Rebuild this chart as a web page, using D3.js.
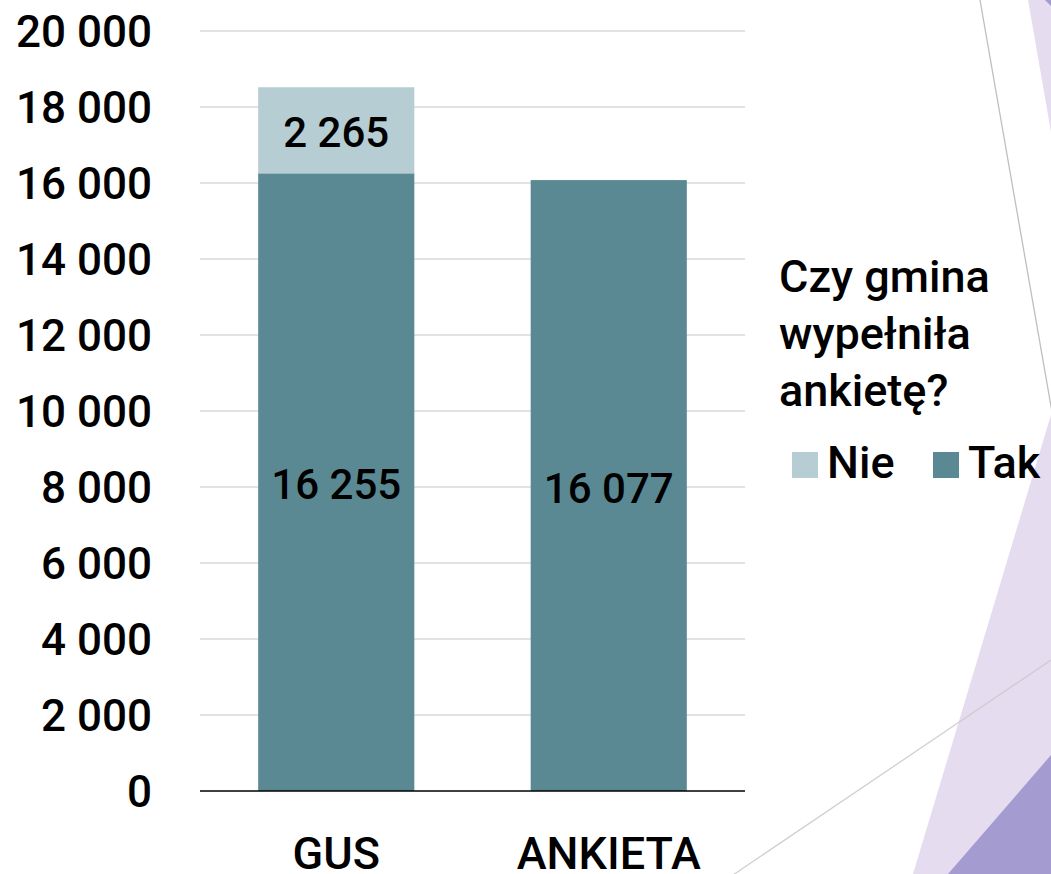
<!DOCTYPE html>
<html><head><meta charset="utf-8">
<script src="https://cdn.jsdelivr.net/npm/d3@7"></script>
<style>
html,body{margin:0;padding:0;background:#fff;}
svg{display:block;}
text{font-family:"Roboto",sans-serif;font-weight:500;fill:#000;}
</style></head>
<body>
<svg id="chart" width="1051" height="874"></svg>
<script>
const categories = ["GUS", "ANKIETA"];
const seriesNames = ["Tak", "Nie"];
const takValues = [16255, 16077];
const nieValues = [2265, 0];
const yTicks = [0, 2000, 4000, 6000, 8000, 10000, 12000, 14000, 16000, 18000, 20000];
const legendTitle = ["Czy gmina", "wypełniła", "ankietę?"];
const legendOrder = ["Nie", "Tak"];

const colors = {Tak: "#5A8993", Nie: "#B6CDD4"};
const fmt = d3.formatLocale({decimal: ",", thousands: " ", grouping: [3]}).format(",d");

const svg = d3.select("#chart");

// decorative slide background
const deco = svg.append("g");
deco.append("polygon").attr("points", "1028,0 1051,0 1051,132").attr("fill", "#E6DCEF");
deco.append("polygon").attr("points", "1045,0 1051,0 1051,6").attr("fill", "#A49CD1");
deco.append("polygon").attr("points", "1053,408 1051,874 913,874").attr("fill", "#E6DCEF");
deco.append("polygon").attr("points", "1051,755 1051,874 948,874").attr("fill", "#A49CD1");
deco.append("line").attr("x1", 980).attr("y1", 0).attr("x2", 1052).attr("y2", 412)
  .attr("stroke", "#BFBFBF").attr("stroke-width", 1.3);
deco.append("line").attr("x1", 733).attr("y1", 875).attr("x2", 1051).attr("y2", 660)
  .attr("stroke", "#C8C8C8").attr("stroke-opacity", 0.85).attr("stroke-width", 1.3);

const x0 = 200, x1 = 745, yTop = 31, yBot = 791;
const x = d3.scaleBand().domain(categories).range([x0, x1]).paddingInner(0.427).paddingOuter(0.2135);
const y = d3.scaleLinear().domain([0, 20000]).range([yBot, yTop]);

// gridlines
svg.append("g").selectAll("line").data(yTicks.filter(d => d > 0)).join("line")
  .attr("x1", x0).attr("x2", x1)
  .attr("y1", d => y(d)).attr("y2", d => y(d))
  .attr("stroke", "#D9D9D9").attr("stroke-width", 1.5);

// y axis labels
const yAxis = d3.axisLeft(y).tickValues(yTicks).tickFormat(fmt).tickSize(0).tickPadding(0);
const ya = svg.append("g").attr("transform", "translate(152,0)").call(yAxis);
ya.select(".domain").remove();
ya.selectAll("text").attr("font-size", 44).attr("font-family", "Roboto").attr("font-weight", 500).attr("fill", "#000").attr("dy", "0.36em");

// stacked bars
const rows = categories.map((c, i) => ({cat: c, Tak: takValues[i], Nie: nieValues[i]}));
const stack = d3.stack().keys(seriesNames)(rows);
const gBars = svg.append("g");
stack.forEach(layer => {
  gBars.selectAll(null).data(layer.filter(d => d[1] - d[0] > 0)).join("rect")
    .attr("x", d => x(d.data.cat)).attr("width", x.bandwidth())
    .attr("y", d => y(d[1])).attr("height", d => y(d[0]) - y(d[1]))
    .attr("fill", colors[layer.key]);
});
// data labels
stack.forEach(layer => {
  gBars.selectAll(null).data(layer.filter(d => d[1] - d[0] > 0)).join("text")
    .attr("x", d => x(d.data.cat) + x.bandwidth() / 2)
    .attr("y", d => (y(d[0]) + y(d[1])) / 2 + 2)
    .attr("text-anchor", "middle").attr("dy", "0.36em")
    .attr("font-size", 42).attr("font-weight", 500)
    .text(d => fmt(d[1] - d[0]));
});

// baseline
svg.append("line").attr("x1", x0).attr("x2", x1).attr("y1", yBot).attr("y2", yBot)
  .attr("stroke", "#000").attr("stroke-width", 1.5);

// x axis labels
const xAxis = d3.axisBottom(x).tickSize(0).tickPadding(0);
const xa = svg.append("g").attr("transform", `translate(0,${yBot})`).call(xAxis);
xa.select(".domain").remove();
xa.selectAll("text").attr("font-size", 45).attr("font-family", "Roboto").attr("font-weight", 500)
  .attr("fill", "#000").attr("y", 78).attr("dy", 0);

// legend
const lg = svg.append("g");
lg.selectAll("text.title").data(legendTitle).join("text").attr("class", "title")
  .attr("x", 779).attr("y", (d, i) => 292 + i * 57)
  .attr("font-size", 45).text(d => d);
const legX = {Nie: 792, Tak: 933};
legendOrder.forEach(k => {
  lg.append("rect").attr("x", legX[k]).attr("y", 452).attr("width", 26).attr("height", 26).attr("fill", colors[k]);
  lg.append("text").attr("x", legX[k] + 35).attr("y", 478).attr("font-size", 45).text(k);
});
</script>
</body></html>
